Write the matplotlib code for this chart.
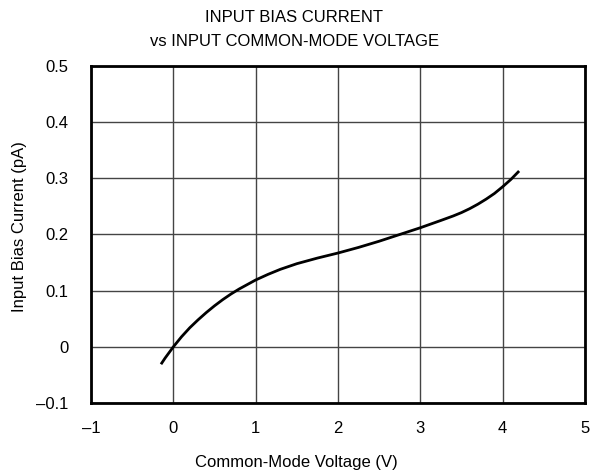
import numpy as np
import matplotlib
matplotlib.use('Agg')
import matplotlib.pyplot as plt

plt.rcParams['font.family'] = ['Liberation Sans', 'DejaVu Sans']

# curve
voltage = [-0.15, -0.1, -0.05, 0.0, 0.1, 0.2, 0.3, 0.4, 0.5, 0.6, 0.7, 0.8,
           0.9, 1.0, 1.15, 1.3, 1.5, 1.75, 2.0, 2.25, 2.5, 2.75, 3.0, 3.25,
           3.4, 3.5, 3.6, 3.7, 3.8, 3.9, 4.0, 4.1, 4.2]
bias_current = [-0.031, -0.020, -0.010, 0.0, 0.018, 0.034, 0.048, 0.061,
                0.073, 0.084, 0.094, 0.103, 0.111, 0.119, 0.129, 0.138, 0.148,
                0.158, 0.167, 0.177, 0.188, 0.200, 0.212, 0.225, 0.233, 0.239,
                0.246, 0.254, 0.263, 0.273, 0.285, 0.298, 0.313]

xticks = [-1, 0, 1, 2, 3, 4, 5]
yticks = [-0.1, 0, 0.1, 0.2, 0.3, 0.4, 0.5]

fig = plt.figure(figsize=(5.96, 4.74), dpi=100)
ax = fig.add_axes([0.1527, 0.1498, 0.9815 - 0.1527, 0.8608 - 0.1498])

ax.plot(voltage, bias_current, color='black', lw=2, solid_capstyle='butt')

ax.set_xlim(-1, 5)
ax.set_ylim(-0.1, 0.5)
ax.set_xticks(xticks)
ax.set_yticks(yticks)
ax.set_xticklabels([str(t).replace('-', '\u2013') for t in xticks])
ax.set_yticklabels([('%g' % t).replace('-', '\u2013') for t in yticks])
ax.tick_params(axis='x', length=0, labelsize=12, pad=13)
ax.tick_params(axis='y', length=0, labelsize=12, pad=16)
ax.grid(True, color='#444444', lw=1)
ax.set_axisbelow(True)
for s in ax.spines.values():
    s.set_linewidth(2)

fig.text(20 / 596, 1 - 227 / 474, 'Input Bias Current (pA)', fontsize=12,
         ha='center', va='center', rotation=90)
fig.text(0.497, 1 - 463 / 474, 'Common-Mode Voltage (V)', fontsize=12,
         ha='center', va='center')
fig.text(0.494, 1 - 18 / 474, 'INPUT BIAS CURRENT', fontsize=12,
         ha='center', va='center')
fig.text(0.494, 1 - 42 / 474, 'vs INPUT COMMON-MODE VOLTAGE', fontsize=12,
         ha='center', va='center')

fig.savefig('out.png', dpi=100)
